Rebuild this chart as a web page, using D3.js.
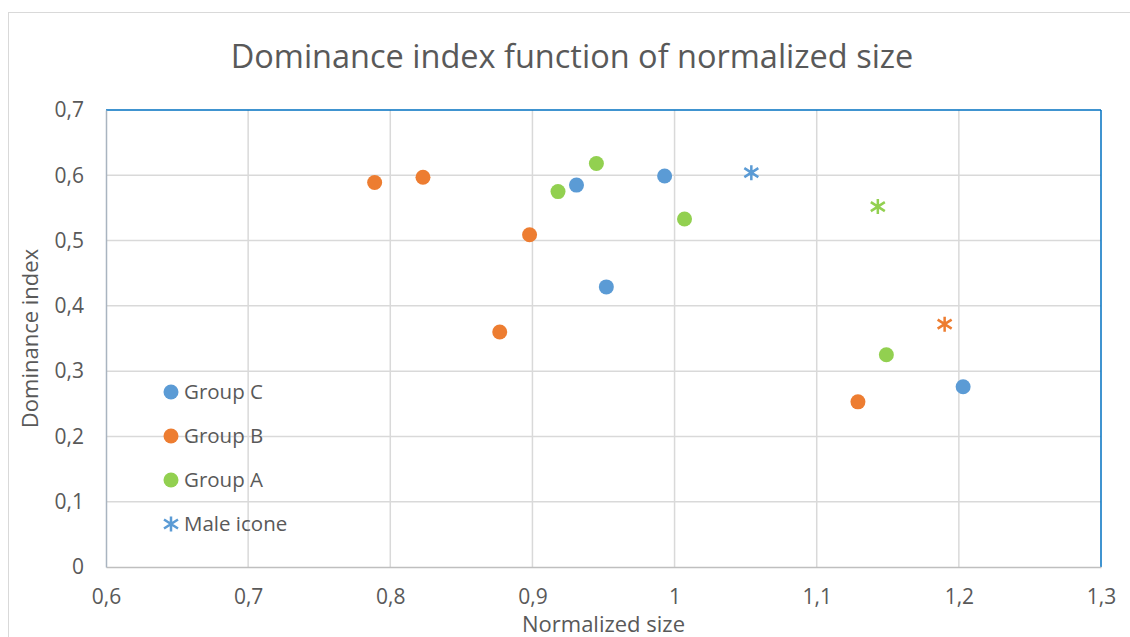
<!DOCTYPE html>
<html>
<head>
<meta charset="utf-8">
<script src="https://cdn.jsdelivr.net/npm/d3@7"></script>
<style>
  html, body { margin: 0; padding: 0; background: #fff; }
  svg { display: block; }
  text { font-family: "Open Sans", sans-serif; fill: #595959; }
</style>
</head>
<body>
<svg id="chart" width="1130" height="637"></svg>
<script>
// Normalized size (x) and dominance index (y) per group
const groupC = [
  { x: 0.931, y: 0.585 },
  { x: 0.993, y: 0.599 },
  { x: 0.952, y: 0.429 },
  { x: 1.203, y: 0.276 }
];
const groupB = [
  { x: 0.789, y: 0.589 },
  { x: 0.823, y: 0.597 },
  { x: 0.898, y: 0.509 },
  { x: 0.877, y: 0.360 },
  { x: 1.129, y: 0.253 }
];
const groupA = [
  { x: 0.918, y: 0.575 },
  { x: 0.945, y: 0.618 },
  { x: 1.007, y: 0.533 },
  { x: 1.149, y: 0.325 }
];
// Male icons, one per group, coloured like their group
const maleIcone = [
  { x: 1.054, y: 0.604, group: "C" },
  { x: 1.143, y: 0.552, group: "A" },
  { x: 1.190, y: 0.372, group: "B" }
];

const xTicks = [0.6, 0.7, 0.8, 0.9, 1.0, 1.1, 1.2, 1.3];
const yTicks = [0, 0.1, 0.2, 0.3, 0.4, 0.5, 0.6, 0.7];

const colors = { C: "#5b9bd5", B: "#ed7d31", A: "#92d050" };

const svg = d3.select("#chart");

// Outer chart frame
svg.append("rect")
  .attr("x", 8.5).attr("y", 12.5)
  .attr("width", 1130).attr("height", 640)
  .attr("fill", "none").attr("stroke", "#d9d9d9").attr("stroke-width", 1);

const plot = { left: 106, right: 1101, top: 110, bottom: 567 };

const x = d3.scaleLinear().domain([0.6, 1.3]).range([plot.left, plot.right]);
const y = d3.scaleLinear().domain([0, 0.7]).range([plot.bottom, plot.top]);

const fmt = v => (v === 0 ? "0" : (Math.round(v * 10) === 10 ? "1" : d3.format(".1f")(v).replace(".", ",")));

// Gridlines
const grid = svg.append("g");
grid.selectAll("line.v").data(xTicks.slice(1, -1)).join("line")
  .attr("x1", d => x(d)).attr("x2", d => x(d))
  .attr("y1", plot.top).attr("y2", plot.bottom)
  .attr("stroke", "#d9d9d9").attr("stroke-width", 1.5);
grid.selectAll("line.h").data(yTicks.slice(1, -1)).join("line")
  .attr("x1", plot.left).attr("x2", plot.right)
  .attr("y1", d => y(d)).attr("y2", d => y(d))
  .attr("stroke", "#d9d9d9").attr("stroke-width", 1.5);

// Plot area border: blue top and right, grey axes
svg.append("line")
  .attr("x1", plot.left).attr("x2", plot.right)
  .attr("y1", plot.top).attr("y2", plot.top)
  .attr("stroke", "#0070c0").attr("stroke-width", 1.5);
svg.append("line")
  .attr("x1", plot.right).attr("x2", plot.right)
  .attr("y1", plot.top).attr("y2", plot.bottom)
  .attr("stroke", "#0070c0").attr("stroke-width", 1.5);

// Axes
const xAxis = svg.append("g")
  .attr("transform", `translate(0,${plot.bottom})`)
  .call(d3.axisBottom(x).tickValues(xTicks).tickFormat(fmt).tickSize(0).tickPadding(22));
xAxis.select(".domain").attr("stroke", "#bfbfbf").attr("stroke-width", 1.5);
xAxis.selectAll("text").style("font-size", "21px").attr("fill", "#595959");

const yAxis = svg.append("g")
  .attr("transform", `translate(${plot.left},0)`)
  .call(d3.axisLeft(y).tickValues(yTicks).tickFormat(fmt).tickSize(0).tickPadding(22));
yAxis.select(".domain").attr("stroke", "#a9b4c0").attr("stroke-width", 1.5);
yAxis.selectAll("text").style("font-size", "21px").attr("fill", "#595959");

// Title and axis titles
svg.append("text")
  .attr("x", 572).attr("y", 68)
  .attr("text-anchor", "middle")
  .style("font-size", "32.5px")
  .text("Dominance index function of normalized size");

svg.append("text")
  .attr("x", (plot.left + plot.right) / 2).attr("y", 632)
  .attr("text-anchor", "middle")
  .style("font-size", "22px")
  .text("Normalized size");

svg.append("text")
  .attr("transform", `translate(38,${(plot.top + plot.bottom) / 2}) rotate(-90)`)
  .attr("text-anchor", "middle")
  .style("font-size", "22px")
  .text("Dominance index");

// Asterisk marker path
const star = "M0,-7.5V7.5M-7,-4.5L7,4.5M-7,4.5L7,-4.5";

const marks = svg.append("g");
[[groupC, "C"], [groupB, "B"], [groupA, "A"]].forEach(([data, key]) => {
  marks.selectAll(null).data(data).join("circle")
    .attr("cx", d => x(d.x)).attr("cy", d => y(d.y))
    .attr("r", 7.5)
    .attr("fill", colors[key]);
});
marks.selectAll(null).data(maleIcone).join("path")
  .attr("transform", d => `translate(${x(d.x)},${y(d.y)})`)
  .attr("d", star)
  .attr("fill", "none")
  .attr("stroke", d => colors[d.group])
  .attr("stroke-width", 2.5);

// Legend
const legendItems = [
  { label: "Group C", color: colors.C, shape: "circle" },
  { label: "Group B", color: colors.B, shape: "circle" },
  { label: "Group A", color: colors.A, shape: "circle" },
  { label: "Male icone", color: colors.C, shape: "star" }
];
const legend = svg.append("g").attr("transform", "translate(171,392)");
const rows = legend.selectAll("g").data(legendItems).join("g")
  .attr("transform", (d, i) => `translate(0,${i * 44})`);
rows.filter(d => d.shape === "circle").append("circle")
  .attr("r", 7.5).attr("fill", d => d.color);
rows.filter(d => d.shape === "star").append("path")
  .attr("d", star).attr("fill", "none")
  .attr("stroke", d => d.color).attr("stroke-width", 2.5);
rows.append("text")
  .attr("x", 13).attr("dy", "0.35em")
  .style("font-size", "20.5px")
  .text(d => d.label);
</script>
</body>
</html>
